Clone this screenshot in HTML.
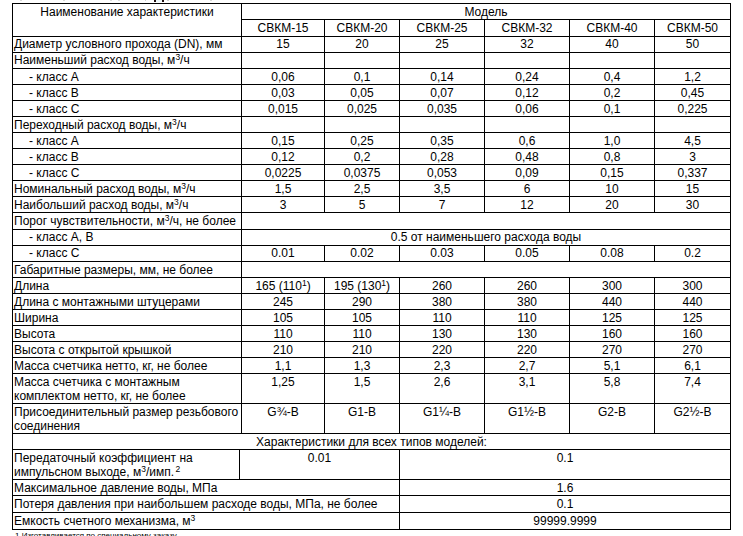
<!DOCTYPE html>
<html lang="ru">
<head>
<meta charset="utf-8">
<title>СВКМ</title>
<style>
html,body{margin:0;padding:0;background:#fff;}
body{width:743px;height:536px;overflow:hidden;position:relative;font-family:"Liberation Sans",sans-serif;font-size:12px;color:#000;}
table{position:absolute;left:12px;top:3px;border-collapse:separate;border-spacing:0;table-layout:fixed;width:719px;border-left:1px solid #000;border-top:1px solid #000;}
td{box-sizing:border-box;border-right:1px solid #000;border-bottom:1px solid #000;padding:0;text-align:center;vertical-align:top;line-height:14px;white-space:nowrap;overflow:hidden;}
td div{position:relative;top:1px;}
td.l{text-align:left;}
td.l div{left:1px;}
tr.u td div{top:0px;}
tr.d td div{top:2px;}
td.i div{left:16px;}
tr{height:16px;}
tr.h17{height:17px;}
tr.h30{height:30px;}
sup{font-size:8.5px;line-height:0;vertical-align:baseline;position:relative;top:-4px;}
.fn{position:absolute;left:15px;top:530.5px;font-size:8px;line-height:10px;white-space:nowrap;}
.frag{position:absolute;top:0;height:2px;background:#222;}
</style>
</head>
<body>
<div class="frag" style="left:154px;width:2px;height:2px;background:#1e0e0e"></div>
<div class="frag" style="left:162px;width:2px;height:2px;background:#1e0e0e"></div>
<div class="frag" style="left:156px;width:6px;height:2px;background:#eef8fb"></div>
<div class="frag" style="left:145px;width:1px;height:1px;background:#cfcfcf"></div>
<div class="frag" style="left:167px;width:2px;height:1px;background:#cdcdcd"></div>
<div class="frag" style="left:210px;width:2px;height:1px;background:#d8d8d8"></div>
<div class="frag" style="left:20px;width:2px;height:1px;background:#d8d8d8"></div>
<div class="frag" style="left:63px;width:2px;height:1px;background:#d8d8d8"></div>
<div class="frag" style="left:110px;width:2px;height:1px;background:#dcdcdc"></div>
<div class="frag" style="left:118px;width:2px;height:1px;background:#dcdcdc"></div>
<table>
<colgroup><col style="width:227px"><col style="width:2px"><col style="width:83px"><col style="width:75px"><col style="width:85px"><col style="width:85px"><col style="width:85px"><col style="width:76px"></colgroup>
<tr class="hd"><td rowspan="2" colspan="2"><div>Наименование характеристики</div></td><td colspan="6"><div>Модель</div></td></tr>
<tr class="h17"><td><div>СВКМ-15</div></td><td><div>СВКМ-20</div></td><td><div>СВКМ-25</div></td><td><div>СВКМ-32</div></td><td><div>СВКМ-40</div></td><td><div>СВКМ-50</div></td></tr>
<tr class="u"><td class="l" colspan="2"><div>Диаметр условного прохода (DN), мм</div></td><td><div>15</div></td><td><div>20</div></td><td><div>25</div></td><td><div>32</div></td><td><div>40</div></td><td><div>50</div></td></tr>
<tr class="u"><td class="l" colspan="2"><div>Наименьший расход воды, м<sup>3</sup>/ч</div></td><td></td><td></td><td></td><td></td><td></td><td></td></tr>
<tr><td class="l i" colspan="2"><div>- класс А</div></td><td><div>0,06</div></td><td><div>0,1</div></td><td><div>0,14</div></td><td><div>0,24</div></td><td><div>0,4</div></td><td><div>1,2</div></td></tr>
<tr><td class="l i" colspan="2"><div>- класс В</div></td><td><div>0,03</div></td><td><div>0,05</div></td><td><div>0,07</div></td><td><div>0,12</div></td><td><div>0,2</div></td><td><div>0,45</div></td></tr>
<tr><td class="l i" colspan="2"><div>- класс С</div></td><td><div>0,015</div></td><td><div>0,025</div></td><td><div>0,035</div></td><td><div>0,06</div></td><td><div>0,1</div></td><td><div>0,225</div></td></tr>
<tr><td class="l" colspan="2"><div>Переходный расход воды, м<sup>3</sup>/ч</div></td><td></td><td></td><td></td><td></td><td></td><td></td></tr>
<tr><td class="l i" colspan="2"><div>- класс А</div></td><td><div>0,15</div></td><td><div>0,25</div></td><td><div>0,35</div></td><td><div>0,6</div></td><td><div>1,0</div></td><td><div>4,5</div></td></tr>
<tr><td class="l i" colspan="2"><div>- класс В</div></td><td><div>0,12</div></td><td><div>0,2</div></td><td><div>0,28</div></td><td><div>0,48</div></td><td><div>0,8</div></td><td><div>3</div></td></tr>
<tr><td class="l i" colspan="2"><div>- класс С</div></td><td><div>0,0225</div></td><td><div>0,0375</div></td><td><div>0,053</div></td><td><div>0,09</div></td><td><div>0,15</div></td><td><div>0,337</div></td></tr>
<tr><td class="l" colspan="2"><div>Номинальный расход воды, м<sup>3</sup>/ч</div></td><td><div>1,5</div></td><td><div>2,5</div></td><td><div>3,5</div></td><td><div>6</div></td><td><div>10</div></td><td><div>15</div></td></tr>
<tr><td class="l" colspan="2"><div>Наибольший расход воды, м<sup>3</sup>/ч</div></td><td><div>3</div></td><td><div>5</div></td><td><div>7</div></td><td><div>12</div></td><td><div>20</div></td><td><div>30</div></td></tr>
<tr class="h17"><td class="l" colspan="2"><div>Порог чувствительности, м<sup>3</sup>/ч, не более</div></td><td colspan="6"></td></tr>
<tr class="u"><td class="l i" colspan="2"><div>- класс А, В</div></td><td colspan="6"><div>0.5 от наименьшего расхода воды</div></td></tr>
<tr class="u"><td class="l i" colspan="2"><div>- класс С</div></td><td><div>0.01</div></td><td><div>0.02</div></td><td><div>0.03</div></td><td><div>0.05</div></td><td><div>0.08</div></td><td><div>0.2</div></td></tr>
<tr><td class="l" colspan="2"><div>Габаритные размеры, мм, не более</div></td><td colspan="6"></td></tr>
<tr><td class="l" colspan="2"><div>Длина</div></td><td><div>165 (110<sup>1</sup>)</div></td><td><div>195 (130<sup>1</sup>)</div></td><td><div>260</div></td><td><div>260</div></td><td><div>300</div></td><td><div>300</div></td></tr>
<tr><td class="l" colspan="2"><div>Длина с монтажными штуцерами</div></td><td><div>245</div></td><td><div>290</div></td><td><div>380</div></td><td><div>380</div></td><td><div>440</div></td><td><div>440</div></td></tr>
<tr><td class="l" colspan="2"><div>Ширина</div></td><td><div>105</div></td><td><div>105</div></td><td><div>110</div></td><td><div>110</div></td><td><div>125</div></td><td><div>125</div></td></tr>
<tr><td class="l" colspan="2"><div>Высота</div></td><td><div>110</div></td><td><div>110</div></td><td><div>130</div></td><td><div>130</div></td><td><div>160</div></td><td><div>160</div></td></tr>
<tr><td class="l" colspan="2"><div>Высота с открытой крышкой</div></td><td><div>210</div></td><td><div>210</div></td><td><div>220</div></td><td><div>220</div></td><td><div>270</div></td><td><div>270</div></td></tr>
<tr><td class="l" colspan="2"><div>Масса счетчика нетто, кг, не более</div></td><td><div>1,1</div></td><td><div>1,3</div></td><td><div>2,3</div></td><td><div>2,7</div></td><td><div>5,1</div></td><td><div>6,1</div></td></tr>
<tr class="h30"><td class="l" colspan="2"><div>Масса счетчика с монтажным<br>комплектом нетто, кг, не более</div></td><td><div>1,25</div></td><td><div>1,5</div></td><td><div>2,6</div></td><td><div>3,1</div></td><td><div>5,8</div></td><td><div>7,4</div></td></tr>
<tr class="h30"><td class="l" colspan="2"><div>Присоединительный размер резьбового<br>соединения</div></td><td><div>G¾-В</div></td><td><div>G1-В</div></td><td><div>G1¼-В</div></td><td><div>G1½-В</div></td><td><div>G2-В</div></td><td><div>G2½-В</div></td></tr>
<tr><td colspan="8"><div>Характеристики для всех типов моделей:</div></td></tr>
<tr class="h30"><td class="l"><div>Передаточный коэффициент на<br>импульсном выходе, м<sup>3</sup>/имп. <sup style="margin-left:-2px">2</sup></div></td><td colspan="3"><div>0.01</div></td><td colspan="4"><div>0.1</div></td></tr>
<tr><td class="l" colspan="4"><div>Максимальное давление воды, МПа</div></td><td colspan="4"><div>1.6</div></td></tr>
<tr class="h17"><td class="l" colspan="4"><div>Потеря давления при наибольшем расходе воды, МПа, не более</div></td><td colspan="4"><div>0.1</div></td></tr>
<tr class="h17"><td class="l" colspan="4"><div>Емкость счетного механизма, м<sup>3</sup></div></td><td colspan="4"><div>99999.9999</div></td></tr>
</table>
<div class="fn">1 Изготавливается по специальному заказу.</div>
</body>
</html>
